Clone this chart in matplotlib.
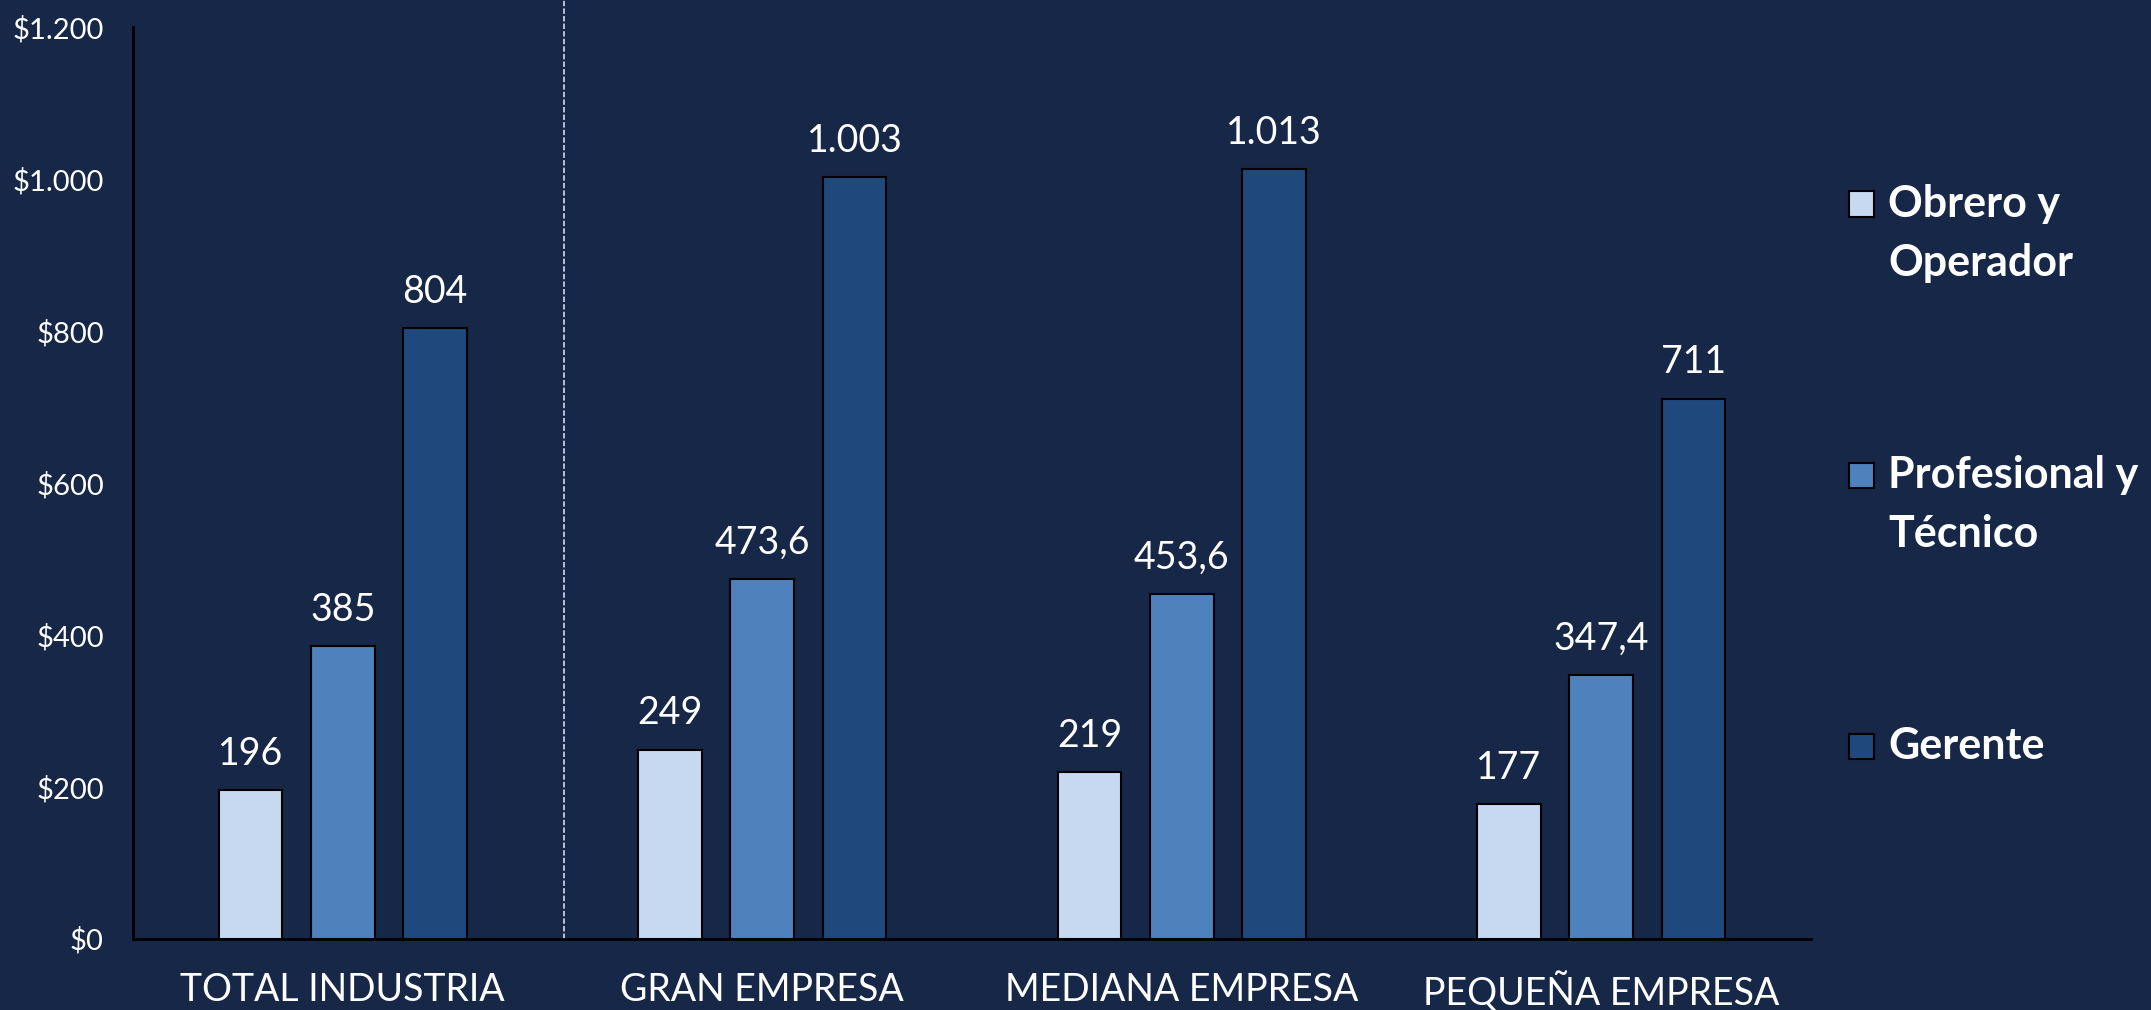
import matplotlib
matplotlib.use("Agg")
import matplotlib.pyplot as plt
import numpy as np
from matplotlib.patches import Rectangle

# ---- data ----
categories = ["TOTAL INDUSTRIA", "GRAN EMPRESA", "MEDIANA EMPRESA", "PEQUEÑA EMPRESA"]
series_names = ["Obrero y\nOperador", "Profesional y\nTécnico", "Gerente"]
obrero = [196, 249, 219, 177]
profesional = [385, 473.6, 453.6, 347.4]
gerente = [804, 1003, 1013, 711]
yticks = [0, 200, 400, 600, 800, 1000, 1200]

colors = ["#C6D9F1", "#4F81BD", "#1F497D"]
bg = "#172747"

def fmt_es(v, prefix=""):
    if float(v).is_integer():
        s = f"{int(v):,}".replace(",", ".")
    else:
        s = f"{v:,.1f}".replace(",", "X").replace(".", ",").replace("X", ".")
    return prefix + s

plt.rcParams['font.family'] = ['Lato', 'DejaVu Sans']

fig = plt.figure(figsize=(21.51, 10.10), dpi=100, facecolor=bg)
ax = fig.add_axes([133/2151, 1-938.7/1010, (1811-133)/2151, (938.7-27)/1010])
ax.set_facecolor(bg)

x = np.arange(len(categories))
width = 0.152
offset = 0.22
for i, (vals, c) in enumerate(zip([obrero, profesional, gerente], colors)):
    bars = ax.bar(x + (i-1)*offset, vals, width, color=c, edgecolor="black", linewidth=1.5, zorder=3)
    for b, v in zip(bars, vals):
        ax.annotate(fmt_es(v), (b.get_x()+b.get_width()/2, v), xytext=(0, 13),
                    textcoords="offset points", ha="center", va="bottom",
                    color="white", fontsize=27)

ax.set_xlim(-0.5, 3.5)
ax.set_ylim(0, 1200)
ax.set_yticks(yticks)
ax.set_yticklabels([fmt_es(v, "$") for v in yticks])
ax.set_xticks(x)
ax.set_xticklabels(categories)
ax.tick_params(axis="y", length=0, pad=21, labelsize=21, labelcolor="white")
ax.tick_params(axis="x", length=0, pad=24, labelsize=27, labelcolor="white")
for s in ["top", "right"]:
    ax.spines[s].set_visible(False)
ax.spines["left"].set_color("black")
ax.spines["bottom"].set_color("black")
ax.spines["left"].set_linewidth(2)
ax.spines["bottom"].set_linewidth(2)
ax.spines["bottom"].set_zorder(4)

# dashed divider
ax.axvline(0.527, ymin=0, ymax=938.7/911.7, color="#C8CDD6", linestyle=(0, (3, 1.2)),
           linewidth=1.3, clip_on=False, zorder=2)

# legend (manual)
leg_y = [204, 475, 746]
for name, c, yy in zip(series_names, colors, leg_y):
    yf = 1 - yy/1010
    sq = 25
    fig.patches.append(Rectangle((1849/2151, yf - sq/2/1010), sq/2151, sq/1010,
                                 transform=fig.transFigure, facecolor=c, edgecolor="black",
                                 linewidth=1.5))
    lines = name.split("\n")
    for k, ln in enumerate(lines):
        fig.text(1888/2151, yf - k*59/1010, ln, color="white", fontsize=31,
                 fontweight="bold", ha="left", va="center")

fig.savefig("out.png", dpi=100, facecolor=bg)
